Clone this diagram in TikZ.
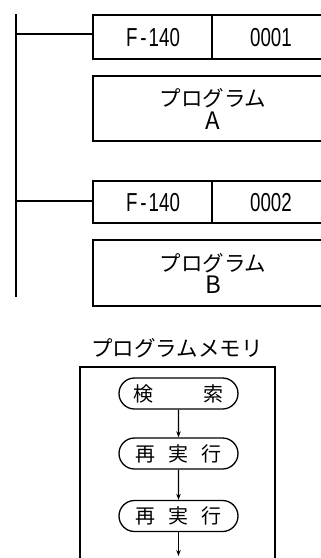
\documentclass[tikz,border=0pt]{standalone}
\usepackage{fontspec}
\setmainfont{Liberation Sans}
\newfontfamily\nar[FakeStretch=0.72]{Liberation Sans}
\newfontfamily\jp{Noto Sans CJK JP}
\usetikzlibrary{shapes.misc,arrows.meta}
\begin{document}
\begin{tikzpicture}[x=1pt,y=-1pt,line width=1.3pt,
  lbl/.style={inner sep=0pt,font=\nar\fontsize{26}{26}\selectfont},
  jlbl/.style={inner sep=0pt,font=\jp\fontsize{21.5}{22}\selectfont},
  big/.style={inner sep=0pt,font=\jp\fontsize{24}{24}\selectfont},
  flow/.style={draw,rounded rectangle,minimum width=119pt,minimum height=31pt,inner sep=0pt,font=\jp\fontsize{20}{20}\selectfont},
  arr/.style={-{Stealth[length=6pt,width=4.5pt]},line width=1.2pt}]
\useasboundingbox (0,0) rectangle (321,558);
% left rail
\coordinate (railtop) at (16,14);
\coordinate (railbot) at (16,297);
\draw[line width=1.6pt] (railtop) -- (railbot);
% instruction 1
\coordinate (b1) at (93,34);
\draw (16,34) -- (b1);
\draw (321,15) -- (93,15) -- (93,59) -- (321,59);
\draw (212,15) -- (212,59);
\node[lbl] (f1) at (153,38) {F\kern3pt-\kern2pt140};
\node[lbl] (n1) at (271,38) {0001};
% program A
\draw (321,76) -- (93,76) -- (93,141) -- (321,141);
\node[jlbl] (pa) at (213,98) {プログラム};
\node[big] (pa2) at (213,121) {A};
% instruction 2
\coordinate (b2) at (93,201);
\draw (16,201) -- (b2);
\draw (321,181) -- (93,181) -- (93,223) -- (321,223);
\draw (212,181) -- (212,223);
\node[lbl] (f2) at (153,203) {F\kern3pt-\kern2pt140};
\node[lbl] (n2) at (271,203) {0002};
% program B
\draw (321,240) -- (93,240) -- (93,306) -- (321,306);
\node[jlbl] (pb) at (213,263) {プログラム};
\node[big] (pb2) at (213,285) {B};
% program memory
\node[inner sep=0pt,font=\jp\fontsize{21.5}{21.5}\selectfont] (pm) at (177,348) {プログラムメモリ};
\draw (80,558) -- (80,367) -- (275,367) -- (275,558);
\node[flow] (s1) at (178.5,393.5) {検\hspace{50pt}索};
\node[flow] (s2) at (178.5,453.5) {再\hspace{13pt}実\hspace{13pt}行};
\node[flow] (s3) at (178.5,516) {再\hspace{13pt}実\hspace{13pt}行};
\coordinate (end) at (178.5,556);
\draw[arr] (s1) -- (s2);
\draw[arr] (s2) -- (s3);
\draw[arr] (s3) -- (end);
\end{tikzpicture}
\end{document}
